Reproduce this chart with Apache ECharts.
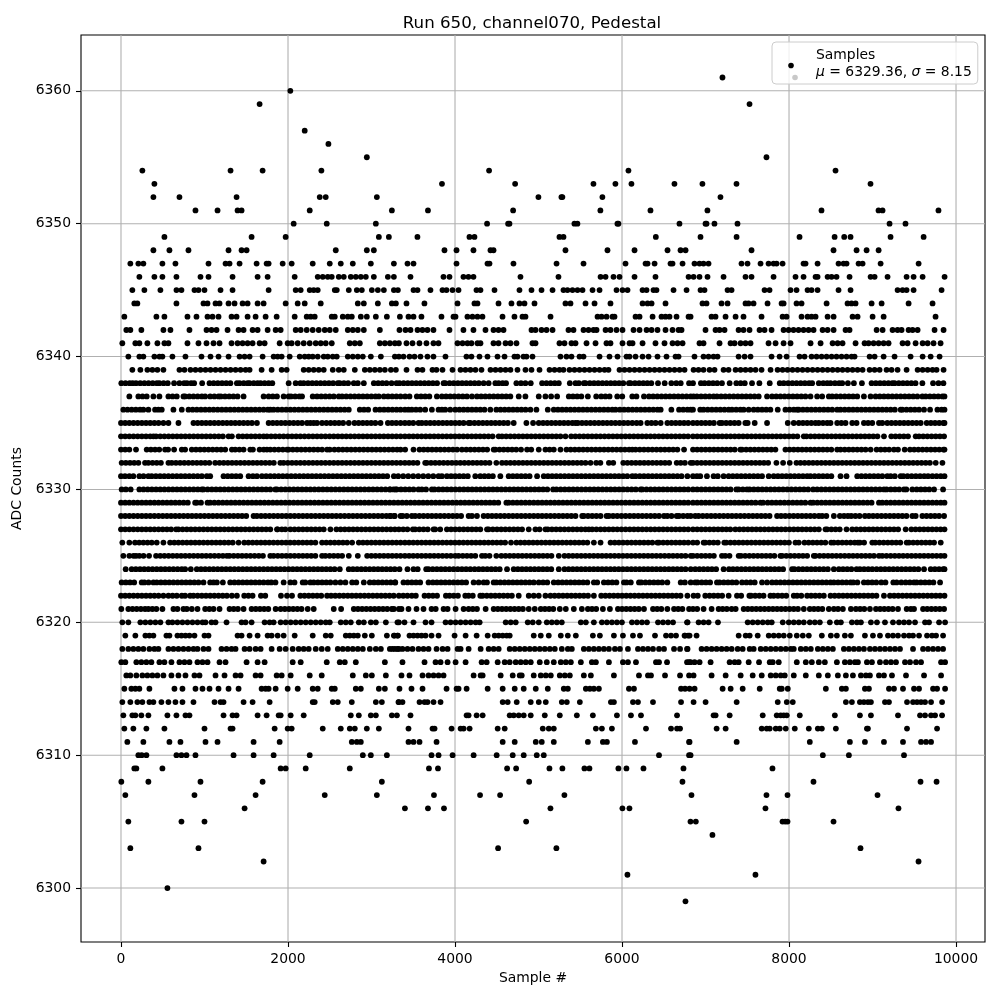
<!DOCTYPE html>
<html><head><meta charset="utf-8"><style>html,body{margin:0;background:#fff}#c{width:1000px;height:1000px}</style>
<script src="https://cdn.jsdelivr.net/npm/echarts@6/dist/echarts.min.js"></script></head><body><div id="c"></div>
<script>
const xTicks=[0,2000,4000,6000,8000,10000];
const yTicks=[6300,6310,6320,6330,6340,6350,6360];
const xRange=[-479,10347];
const yRange=[6295.94,6364.2];
const legendDotBlack=[8024,6361.9];
const legendDotGray=[8072,6361.0];
const adc_6361=[7203];
const adc_6360=[2028];
const adc_6359=[1660,7527];
const adc_6357=[2200];
const adc_6356=[2484];
const adc_6355=[2944,7730];
const adc_6354=[256,1312,1696,2400,4408,6077,8557];
const adc_6353=[400,3844,4720,5658,5921,6113,6628,6963,7371,8976];
const adc_6352=[388,700,1384,2380,2452,3064,4999,5274,5286,5765,7179];
const adc_6351=[892,1156,1396,1444,2260,3244,3676,4696,5741,6341,7023,8389,9072,9120,9790];
const adc_6350=[2068,2464,3052,4384,4636,4652,5430,5466,5945,5957,6688,7000,7012,7107,7383,9204,9395];
const adc_6349=[520,1564,1972,3088,3208,3550,4173,4233,5251,5299,6405,6940,7372,8126,8546,8661,8737,9216,9612];
const adc_6348=[388,580,808,1288,1444,1504,2572,2944,3028,3874,4018,4221,4425,4461,5323,5826,6150,6545,6701,6761,7551,8533,8809,8929,9073];
const adc_6347=[112,208,268,496,652,1048,1252,1300,1420,1624,1744,1768,1936,2044,2296,2500,2632,2776,2992,3268,3431,3503,4018,4389,4413,4700,5216,5539,6042,6282,6306,6390,6581,6605,6725,6868,6928,6976,7036,7431,7503,7659,7755,7815,7851,7923,8174,8198,8342,8593,8653,8689,8833,8881,9097,9552];
const adc_6346=[220,400,496,664,952,1048,1336,1636,1756,2080,2356,2416,2476,2524,2608,2668,2752,2812,2872,2932,3028,3196,3268,3467,3862,3934,4101,4161,4221,4784,5239,5743,5803,5898,5970,6150,6401,6797,6857,6928,7024,7216,7479,7551,7815,8078,8174,8318,8342,8462,8510,8569,8725,8977,9025,9180,9408,9492,9600,9863];
const adc_6345=[136,280,472,664,724,880,928,1000,1192,1336,1768,2092,2152,2260,2308,2356,2560,2584,2728,2824,2884,3004,3076,3148,3268,3316,3503,3551,3706,3850,3898,3970,4042,4257,4305,4473,4772,4916,5036,5168,5299,5347,5407,5467,5527,5647,5731,5934,6006,6066,6246,6294,6377,6413,6617,6773,6940,6988,7264,7312,7707,7767,8018,8090,8222,8270,8342,8593,8737,9300,9360,9408,9492,9827];
const adc_6344=[160,196,664,988,1036,1132,1180,1288,1360,1456,1516,1636,1708,1972,2116,2200,2392,2836,2908,3076,3244,3292,3419,3634,4030,4233,4269,4521,4676,4772,4832,4952,5323,5383,5563,5671,5862,6246,6306,6354,6521,6964,7012,7192,7264,7479,7515,7575,7743,7911,7935,8090,8150,8450,8701,8749,8797,8989,9109,9432,9719];
const adc_6343=[40,424,520,796,904,1036,1096,1168,1324,1384,1516,1612,1732,1864,2080,2224,2272,2320,2524,2560,2656,2716,2764,2872,2944,3052,3184,3340,3443,3503,3598,3838,3982,4006,4149,4209,4269,4329,4569,4712,4808,4844,5144,5707,5755,5815,5886,5910,6162,6210,6366,6473,6521,6569,6653,6797,6821,7072,7120,7240,7360,7455,7671,7923,7971,8150,8222,8270,8318,8462,8534,8761,8821,9001,9133,9755];
const adc_6342=[64,112,244,508,592,820,1024,1084,1144,1276,1408,1468,1576,1636,1756,1852,1912,2092,2152,2224,2296,2368,2440,2500,2572,2716,2776,2836,2908,3100,3335,3407,3467,3551,3610,3670,3742,3934,4101,4221,4365,4461,4521,4581,4916,4964,5036,5096,5168,5359,5419,5539,5599,5659,5695,5803,5862,5934,6006,6138,6210,6294,6354,6425,6521,6605,6677,6713,7000,7120,7168,7228,7396,7455,7527,7647,7707,7791,7935,7995,8054,8114,8174,8234,8294,8402,8462,8534,8677,8725,9049,9121,9240,9300,9348,9432,9480,9540,9743,9851];
const adc_6341=[16,172,220,316,436,520,568,796,928,1024,1108,1180,1324,1396,1456,1516,1576,1660,1720,1900,1996,2044,2116,2188,2260,2332,2392,2452,2524,2740,2800,2860,3100,3160,3220,3280,3328,3419,3491,3574,3658,3742,3802,4030,4090,4149,4197,4269,4305,4461,4521,4605,4664,4736,4928,4964,5251,5311,5395,5443,5575,5683,5814,5862,6006,6090,6126,6246,6401,6509,6605,6665,6725,6928,6976,7168,7300,7348,7420,7479,7539,7755,7839,7935,8018,8258,8378,8522,8582,8641,8797,8905,8953,9013,9073,9133,9192,9360,9420,9516,9600,9660,9731,9815];
const adc_6340=[88,220,268,400,460,496,616,772,964,1072,1168,1288,1420,1480,1540,1696,1828,1876,1924,2020,2140,2200,2248,2296,2356,2428,2476,2536,2584,2716,2776,2836,2896,2992,3112,3280,3328,3383,3455,3515,3586,3670,3742,3886,4137,4197,4293,4389,4509,4593,4712,4748,4820,4856,4928,5263,5335,5395,5491,5539,5731,5850,5946,6054,6090,6162,6246,6318,6425,6533,6641,6677,6868,6976,7036,7096,7144,7396,7468,7539,7791,7887,7971,8126,8186,8270,8330,8390,8450,8510,8569,8629,8689,8749,8785,8965,9025,9133,9264,9456,9600,9696,9803];
const adc_6339=[136,232,316,376,436,508,700,760,832,892,952,1012,1072,1132,1192,1252,1312,1372,1432,1492,1540,1684,1804,1924,1984,2188,2248,2308,2368,2428,2536,2608,2668,2800,2920,2980,3040,3100,3160,3232,3292,3419,3551,3610,3730,3778,3850,3970,4066,4125,4185,4245,4317,4425,4485,4545,4605,4664,4748,4844,4916,5012,5132,5192,5251,5299,5371,5431,5491,5551,5611,5671,5731,5791,5838,5970,6030,6090,6150,6210,6270,6330,6390,6449,6509,6569,6629,6689,6749,6857,6916,6976,7048,7108,7216,7276,7360,7420,7479,7539,7599,7671,7779,7863,7923,7982,8042,8102,8162,8222,8282,8342,8402,8462,8522,8582,8641,8701,8761,8821,8881,8965,9025,9085,9168,9228,9300,9408,9540,9600,9660,9719,9767,9851];
const adc_6338=[4,54,104,140,180,230,280,330,380,430,460,510,560,636,700,756,790,840,876,972,1060,1110,1160,1210,1260,1310,1388,1420,1470,1516,1540,1590,1636,1672,1720,1768,1812,2008,2092,2148,2188,2240,2290,2340,2390,2440,2490,2540,2596,2620,2670,2720,2788,2836,2908,3028,3080,3130,3180,3240,3300,3335,3385,3435,3485,3535,3585,3635,3685,3735,3785,3863,3883,3935,3985,4035,4085,4135,4185,4235,4285,4343,4403,4483,4523,4570,4611,4735,4790,4843,4907,5043,5095,5145,5195,5243,5375,5443,5483,5543,5563,5615,5665,5715,5765,5815,5865,5915,5965,6015,6083,6103,6155,6205,6255,6303,6351,6431,6511,6591,6650,6703,6803,6850,6945,6989,7040,7090,7140,7197,7289,7369,7420,7470,7557,7645,7769,7889,7937,7990,8040,8090,8140,8190,8240,8277,8357,8410,8457,8497,8550,8600,8637,8705,8777,8873,8989,9040,9090,9140,9190,9237,9265,9315,9365,9415,9465,9515,9597,9725,9790,9849];
const adc_6337=[100,208,258,308,388,460,568,618,668,748,768,818,868,918,968,1008,1068,1118,1168,1196,1246,1296,1346,1396,1468,1708,1768,1818,1868,1948,2008,2036,2086,2136,2168,2296,2348,2398,2448,2498,2548,2608,2648,2698,2748,2798,2848,2898,2948,2998,3048,3088,3148,3198,3248,3298,3348,3403,3455,3543,3593,3643,3693,3783,3843,3893,3943,3993,4043,4093,4143,4203,4263,4313,4363,4413,4463,4513,4563,4613,4663,4763,4843,5003,5083,5151,5223,5363,5413,5463,5513,5591,5691,5751,5801,5851,5943,6003,6123,6173,6263,6323,6373,6423,6473,6523,6573,6623,6673,6723,6773,6823,6857,6897,6947,6997,7047,7097,7137,7187,7237,7287,7337,7387,7437,7487,7537,7587,7637,7737,7797,7847,7897,7947,7997,8047,8097,8147,8197,8257,8337,8397,8477,8517,8567,8617,8667,8717,8767,8817,8897,8977,9037,9087,9137,9187,9237,9287,9337,9387,9437,9487,9537,9597,9637,9687,9737,9787,9837,9862];
const adc_6336=[28,78,128,178,228,268,328,408,448,488,628,728,808,858,908,958,1008,1058,1108,1158,1208,1258,1308,1358,1408,1458,1508,1558,1608,1658,1708,1758,1788,1828,1878,1928,1978,2028,2078,2128,2178,2228,2278,2328,2378,2428,2478,2528,2578,2628,2678,2728,2860,2910,2960,3048,3100,3150,3200,3250,3300,3348,3400,3443,3483,3533,3583,3643,3723,3803,3843,3883,3943,4003,4053,4103,4153,4203,4253,4303,4353,4423,4495,4545,4595,4645,4695,4745,4795,4845,4903,4975,5111,5183,5233,5283,5333,5383,5433,5483,5533,5583,5633,5683,5733,5783,5833,5883,5923,5975,6025,6075,6125,6175,6225,6275,6325,6375,6425,6463,6591,6683,6733,6783,6823,6850,6937,6977,7027,7077,7127,7177,7227,7277,7317,7367,7417,7457,7517,7577,7627,7677,7727,7777,7865,7957,8007,8057,8097,8117,8167,8217,8267,8317,8367,8417,8467,8517,8577,8617,8667,8717,8767,8817,8867,8917,8967,9017,9067,9117,9167,9217,9267,9337,9357,9407,9457,9507,9557,9617,9689,9777,9827,9862];
const adc_6335=[0,50,100,150,200,250,300,350,400,450,508,568,688,868,918,968,1018,1068,1118,1168,1218,1268,1318,1368,1418,1468,1518,1568,1628,1768,1818,1868,1918,1968,2018,2068,2118,2168,2228,2268,2308,2348,2408,2460,2510,2560,2610,2660,2728,2796,2846,2896,2946,2996,3046,3108,3196,3246,3296,3348,3400,3450,3500,3563,3603,3653,3703,3753,3803,3853,3903,3953,4003,4053,4103,4163,4183,4233,4283,4333,4383,4433,4483,4533,4583,4633,4703,4855,4935,5003,5055,5105,5155,5205,5255,5305,5355,5405,5443,5471,5521,5571,5621,5671,5721,5771,5821,5871,5921,5971,6021,6071,6123,6175,6223,6303,6353,6403,6463,6543,6593,6643,6693,6743,6793,6850,6900,6950,7000,7050,7100,7169,7197,7247,7297,7347,7397,7477,7505,7589,7737,7985,8057,8117,8167,8217,8267,8317,8357,8407,8457,8497,8577,8627,8677,8757,8809,8897,8947,8997,9077,9117,9177,9227,9277,9327,9377,9427,9477,9527,9577,9649,9699,9749,9799,9849,9862];
const adc_6334=[0,50,100,150,200,250,300,350,388,420,470,520,570,620,670,720,770,820,870,920,970,1020,1070,1120,1170,1220,1288,1328,1408,1458,1508,1558,1608,1658,1708,1748,1798,1848,1898,1948,1998,2048,2098,2148,2198,2248,2298,2348,2398,2448,2498,2548,2598,2648,2698,2748,2798,2848,2898,2948,2998,3048,3098,3148,3198,3248,3298,3348,3400,3450,3500,3550,3600,3650,3700,3750,3800,3850,3900,3950,4000,4050,4100,4150,4200,4250,4300,4350,4400,4450,4523,4563,4613,4663,4713,4763,4813,4863,4913,4963,5013,5063,5113,5163,5213,5263,5323,5391,5441,5491,5541,5591,5641,5691,5741,5791,5841,5891,5941,5991,6041,6091,6141,6191,6241,6291,6341,6391,6441,6491,6541,6591,6641,6691,6741,6791,6850,6900,6950,7000,7050,7100,7150,7200,7250,7300,7350,7400,7450,7500,7550,7600,7650,7700,7750,7800,7850,7900,7950,8000,8050,8100,8177,8209,8259,8309,8359,8409,8459,8509,8559,8609,8659,8709,8759,8809,8859,8909,8959,9009,9059,9137,9225,9275,9325,9375,9425,9517,9557,9607,9657,9707,9757,9807,9857];
const adc_6333=[0,50,100,180,308,358,408,458,528,564,636,728,768,848,898,948,998,1048,1098,1148,1198,1248,1328,1368,1418,1468,1548,1580,1660,1710,1748,1788,1838,1888,1938,1988,2008,2058,2108,2158,2208,2258,2308,2358,2408,2468,2500,2556,2606,2656,2706,2756,2806,2856,2906,2956,3006,3056,3106,3156,3206,3256,3306,3348,3403,3503,3575,3625,3675,3725,3775,3825,3875,3925,3975,4025,4083,4135,4185,4235,4285,4335,4385,4463,4483,4533,4583,4633,4683,4733,4791,4863,4913,5003,5083,5133,5183,5263,5335,5385,5435,5485,5535,5585,5635,5685,5735,5785,5835,5885,5935,5985,6035,6085,6123,6163,6213,6263,6313,6363,6413,6463,6513,6563,6613,6663,6743,6850,6900,6950,7000,7050,7100,7150,7200,7250,7300,7350,7417,7437,7487,7537,7587,7637,7687,7737,7787,7837,7957,8007,8057,8107,8157,8207,8257,8307,8357,8407,8457,8507,8577,8617,8667,8717,8767,8817,8867,8917,8977,9049,9099,9149,9199,9257,9305,9385,9449,9499,9549,9599,9649,9699,9749,9799,9849,9862];
const adc_6332=[8,58,108,158,208,288,328,378,428,478,568,608,658,708,758,808,858,908,958,1008,1058,1128,1180,1230,1280,1330,1380,1430,1480,1530,1580,1630,1680,1730,1780,1830,1908,1948,1998,2048,2098,2148,2198,2248,2298,2348,2398,2448,2498,2548,2598,2648,2698,2748,2798,2848,2898,2948,2998,3048,3098,3148,3198,3248,3298,3348,3400,3450,3500,3550,3643,3663,3713,3763,3813,3863,3913,3963,4013,4063,4113,4163,4213,4263,4313,4363,4413,4495,4563,4613,4663,4713,4763,4813,4863,4913,4963,5013,5063,5113,5163,5213,5263,5313,5363,5413,5463,5513,5563,5623,5691,5741,5843,5895,6015,6065,6115,6165,6215,6265,6315,6365,6415,6465,6515,6565,6655,6703,6753,6823,6850,6900,6950,7000,7050,7100,7150,7200,7250,7300,7350,7400,7450,7500,7550,7600,7650,7700,7750,7849,7929,8009,8089,8137,8187,8237,8287,8337,8387,8437,8487,8537,8587,8637,8687,8737,8787,8837,8887,8937,8987,9037,9087,9137,9187,9237,9287,9337,9387,9437,9487,9537,9587,9637,9687,9757,9837];
const adc_6331=[0,48,100,148,220,270,328,368,418,468,518,568,618,668,718,768,818,868,918,968,1028,1068,1228,1278,1328,1378,1428,1528,1580,1628,1688,1738,1788,1838,1888,1938,1988,2038,2088,2138,2188,2238,2288,2338,2388,2438,2488,2538,2588,2638,2688,2738,2788,2838,2888,2938,2988,3038,3088,3138,3188,3268,3320,3380,3440,3500,3560,3620,3680,3740,3803,3843,3903,3953,4003,4053,4103,4153,4243,4303,4353,4403,4453,4543,4643,4693,4743,4793,4843,4893,4983,5063,5113,5163,5213,5263,5313,5363,5413,5463,5513,5563,5613,5663,5713,5763,5813,5863,5913,5963,6013,6063,6123,6163,6213,6263,6313,6363,6413,6463,6513,6563,6613,6663,6713,6783,6850,6897,6937,7017,7097,7147,7217,7277,7327,7377,7427,7477,7527,7577,7627,7677,7757,7817,7867,7917,7967,8017,8067,8117,8167,8217,8257,8307,8357,8407,8457,8507,8617,8689,8817,8867,8917,8967,9017,9067,9117,9177,9217,9267,9337,9369,9419,9469,9519,9569,9619,9665,9717,9767,9817,9862];
const adc_6330=[8,58,116,220,270,320,370,420,470,520,570,620,670,720,770,820,870,920,968,988,1038,1088,1138,1188,1238,1288,1338,1388,1438,1488,1538,1588,1638,1688,1738,1788,1848,1868,1918,1968,2018,2068,2118,2168,2218,2268,2318,2368,2418,2468,2518,2568,2618,2668,2718,2768,2818,2868,2918,2968,3018,3068,3118,3168,3218,3288,3223,3263,3303,3353,3403,3453,3503,3563,3603,3653,3723,3755,3805,3855,3905,3955,4005,4055,4105,4155,4205,4255,4305,4355,4405,4455,4505,4555,4605,4655,4705,4755,4805,4855,4905,4955,5005,5055,5105,5175,5215,5265,5315,5365,5415,5465,5515,5565,5615,5665,5715,5765,5815,5865,5915,5965,6015,6065,6115,6165,6223,6243,6293,6343,6393,6443,6493,6543,6593,6643,6693,6743,6793,6850,6900,6950,7000,7050,7100,7150,7200,7250,7300,7369,7397,7447,7497,7529,7579,7629,7679,7729,7779,7829,7879,7929,7979,8029,8079,8129,8179,8229,8289,8337,8387,8437,8487,8537,8587,8637,8687,8737,8787,8837,8887,8937,8987,9037,9087,9137,9169,9219,9269,9319,9377,9405,9477,9529,9579,9629,9679,9737,9845];
const adc_6329=[0,50,100,150,200,250,300,350,400,450,500,550,600,650,700,750,800,888,908,958,1036,1068,1118,1168,1218,1268,1318,1368,1418,1468,1518,1568,1618,1668,1718,1768,1818,1868,1918,1968,2018,2068,2118,2168,2218,2268,2318,2368,2418,2468,2518,2568,2618,2668,2718,2768,2818,2868,2918,2968,3018,3068,3118,3168,3218,3268,3318,3368,3418,3468,3518,3568,3618,3668,3718,3768,3818,3868,3918,3968,4018,4068,4118,4168,4218,4268,4318,4368,4418,4468,4518,4615,4643,4693,4743,4793,4843,4893,4943,4993,5043,5093,5143,5193,5243,5293,5343,5393,5443,5493,5543,5593,5643,5693,5743,5793,5843,5893,5943,5993,6043,6093,6143,6193,6243,6293,6343,6393,6443,6493,6543,6593,6643,6693,6743,6793,6850,6900,6950,7000,7050,7100,7150,7200,7250,7300,7350,7400,7450,7500,7550,7600,7657,7689,7745,7795,7845,7895,7945,7995,8045,8095,8145,8195,8257,8289,8339,8389,8439,8489,8539,8589,8639,8689,8739,8789,8839,8889,8939,8989,9077,9117,9167,9217,9267,9317,9367,9417,9467,9517,9567,9617,9667,9717,9767,9817,9862];
const adc_6328=[0,50,100,150,200,250,300,350,400,450,500,550,600,650,700,750,800,850,900,950,1000,1050,1100,1150,1200,1250,1300,1350,1400,1450,1500,1588,1628,1678,1728,1778,1828,1878,1928,1978,2028,2078,2128,2178,2228,2278,2328,2378,2428,2478,2528,2578,2628,2678,2728,2778,2828,2878,2928,2978,3028,3078,3128,3178,3228,3278,3348,3223,3273,3373,3423,3483,3523,3573,3623,3673,3723,3773,3823,3873,3923,3973,4023,4073,4163,4203,4263,4343,4393,4443,4493,4543,4593,4643,4693,4743,4793,4843,4893,4943,4993,5043,5093,5143,5193,5243,5293,5343,5393,5443,5523,5543,5593,5643,5693,5743,5815,5843,5893,5943,5993,6043,6093,6143,6193,6243,6293,6343,6393,6443,6503,6543,6593,6655,6683,6733,6783,6823,6877,6917,6967,7017,7067,7117,7167,7217,7267,7317,7367,7417,7467,7517,7567,7617,7667,7717,7767,7857,7905,7955,8005,8055,8105,8155,8205,8255,8305,8357,8397,8447,8537,8609,8659,8705,8745,8795,8845,8909,8957,9007,9057,9107,9157,9207,9257,9307,9357,9407,9477,9517,9597,9647,9697,9747,9797,9857];
const adc_6327=[0,50,100,150,200,250,300,350,400,450,500,550,600,660,688,738,788,838,888,938,988,1038,1088,1138,1188,1238,1288,1338,1388,1438,1488,1538,1588,1638,1688,1738,1788,1868,1876,1926,1968,2028,2078,2128,2178,2228,2278,2328,2378,2428,2508,2580,2630,2680,2730,2780,2830,2880,2930,2980,3030,3080,3130,3180,3230,3280,3328,3380,3430,3495,3523,3573,3623,3673,3743,3763,3823,3903,3953,4003,4053,4103,4153,4203,4253,4303,4383,4403,4453,4503,4553,4603,4653,4703,4753,4803,4883,4963,5013,5083,5111,5161,5211,5261,5311,5361,5411,5461,5511,5561,5603,5643,5693,5743,5793,5843,5893,5943,5993,6043,6093,6143,6193,6243,6293,6343,6393,6443,6493,6543,6593,6643,6693,6743,6793,6850,6900,6950,7000,7050,7100,7150,7200,7249,7297,7357,7407,7457,7507,7557,7607,7657,7707,7757,7807,7857,7907,7957,8007,8057,8107,8157,8207,8257,8307,8357,8437,8457,8507,8557,8607,8689,8757,8807,8857,8907,8957,9007,9057,9107,9157,9207,9257,9307,9397,9465,9515,9565,9615,9665,9715,9765,9815,9862];
const adc_6326=[16,100,168,218,268,318,368,428,508,588,638,688,738,788,838,888,938,988,1038,1088,1138,1188,1238,1288,1338,1408,1476,1526,1576,1626,1676,1726,1776,1826,1876,1926,1976,2026,2076,2126,2176,2226,2276,2328,2408,2458,2508,2558,2608,2658,2708,2768,2848,2898,2948,2998,3048,3098,3148,3198,3248,3298,3348,3400,3450,3500,3550,3600,3650,3700,3750,3800,3850,3900,3950,4000,4050,4100,4150,4200,4250,4300,4350,4400,4450,4500,4550,4600,4671,4735,4785,4835,4885,4935,4985,5035,5085,5135,5185,5235,5285,5335,5385,5435,5485,5535,5585,5663,5743,5863,5913,5963,6013,6063,6113,6163,6213,6263,6313,6363,6423,6443,6493,6543,6593,6643,6693,6743,6793,6850,6900,6977,6997,7047,7097,7147,7225,7249,7299,7349,7399,7449,7499,7549,7599,7649,7699,7749,7799,7849,7899,7949,7999,8077,8117,8185,8235,8285,8335,8385,8435,8505,8537,8587,8637,8687,8737,8787,8825,8849,8899,8997,9033,9083,9133,9183,9233,9283,9333,9409,9437,9487,9537,9587,9637,9687,9737,9817];
const adc_6325=[28,100,150,180,220,270,336,420,470,520,570,620,670,720,770,820,870,920,970,1020,1070,1120,1170,1220,1268,1300,1350,1400,1450,1500,1550,1600,1650,1700,1788,1828,1878,1928,1978,2028,2078,2128,2178,2228,2278,2328,2408,2448,2498,2548,2598,2648,2728,2836,2948,2998,3048,3098,3148,3198,3248,3298,3348,3400,3450,3500,3550,3600,3650,3700,3750,3800,3850,3900,3950,4003,4043,4093,4143,4193,4243,4323,4363,4413,4495,4555,4605,4655,4705,4755,4805,4855,4905,4955,5005,5055,5105,5155,5243,5311,5361,5411,5461,5511,5561,5611,5661,5711,5761,5811,5861,5911,5961,6011,6061,6111,6161,6211,6261,6311,6361,6411,6461,6511,6561,6611,6661,6711,6761,6823,6850,6900,6950,7000,7050,7100,7197,7237,7287,7397,7425,7475,7525,7575,7625,7675,7725,7775,7825,7897,7917,7967,8017,8067,8117,8167,8217,8297,8317,8367,8417,8467,8517,8567,8617,8667,8717,8767,8817,8867,8917,8967,9017,9077,9117,9167,9217,9267,9317,9367,9417,9467,9517,9567,9617,9667,9717,9767,9817,9862];
const adc_6324=[56,128,178,228,278,328,378,428,478,528,578,628,678,728,768,836,908,958,1008,1058,1108,1158,1208,1258,1308,1358,1408,1458,1508,1558,1608,1658,1708,1758,1808,1858,1908,1958,2008,2058,2108,2158,2208,2258,2308,2358,2408,2458,2508,2558,2620,2728,2778,2828,2878,2928,2978,3028,3078,3128,3178,3228,3278,3335,3431,3503,3553,3655,3683,3733,3783,3833,3883,3933,3983,4033,4083,4133,4183,4235,4285,4335,4385,4435,4485,4535,4623,4703,4753,4803,4853,4903,4953,5003,5053,5103,5153,5243,5311,5361,5411,5461,5511,5561,5611,5661,5711,5761,5811,5861,5911,5961,6011,6061,6111,6161,6211,6261,6311,6361,6411,6461,6511,6561,6611,6661,6711,6761,6823,6877,6927,6977,7027,7077,7127,7217,7281,7329,7379,7429,7479,7529,7579,7629,7679,7729,7779,7829,7879,7929,8037,8065,8115,8165,8215,8265,8315,8365,8415,8465,8537,8597,8647,8697,8747,8809,8849,8899,8949,8997,9049,9099,9149,9199,9249,9299,9349,9399,9449,9499,9549,9617,9697,9747,9797,9847,9862];
const adc_6323=[8,58,108,158,248,280,330,388,428,478,528,578,628,678,728,778,828,878,928,988,1068,1108,1148,1220,1308,1358,1408,1458,1508,1558,1608,1658,1708,1760,1800,1850,1948,2028,2078,2176,2208,2268,2308,2358,2408,2458,2508,2568,2628,2688,2768,2818,2908,2980,3030,3080,3130,3180,3230,3284,3283,3383,3433,3483,3533,3583,3683,3735,3783,3833,3883,3933,3983,4033,4083,4133,4223,4283,4343,4383,4463,4495,4543,4593,4643,4693,4743,4793,4843,4893,4943,5003,5055,5105,5183,5235,5285,5335,5385,5435,5485,5535,5585,5663,5703,5783,5833,5883,5933,6023,6055,6105,6203,6231,6281,6331,6381,6431,6481,6543,6703,6753,6823,6877,6905,6955,7005,7055,7137,7169,7219,7269,7319,7369,7437,7489,7539,7589,7677,7737,7797,7847,7897,7947,7997,8047,8097,8147,8197,8247,8297,8347,8397,8447,8497,8537,8587,8637,8687,8737,8769,8819,8897,8945,8995,9045,9105,9155,9249,9289,9345,9397,9447,9497,9529,9579,9629,9679,9729,9809];
const adc_6322=[0,50,100,150,200,250,300,350,400,450,508,568,618,668,728,768,828,868,918,968,1018,1068,1118,1168,1218,1268,1328,1388,1476,1526,1576,1676,1728,1916,1988,2048,2148,2198,2248,2298,2348,2398,2468,2516,2566,2616,2666,2716,2766,2816,2866,2916,2966,3016,3066,3116,3166,3216,3266,3328,3380,3430,3483,3531,3635,3685,3735,3785,3891,3935,3985,4035,4123,4163,4213,4303,4331,4381,4431,4481,4531,4581,4631,4681,4763,4883,4943,5003,5083,5143,5193,5243,5293,5343,5393,5443,5493,5543,5593,5663,5751,5801,5851,5901,5951,6001,6051,6101,6151,6201,6251,6301,6351,6401,6451,6501,6551,6601,6651,6701,6783,6857,6907,6997,7049,7099,7149,7199,7277,7377,7427,7525,7545,7595,7645,7695,7777,7817,7867,7917,7967,8057,8097,8147,8217,8265,8315,8365,8417,8497,8547,8597,8647,8697,8747,8797,8847,8897,8947,8997,9047,9137,9209,9259,9309,9359,9409,9459,9509,9559,9609,9659,9709,9759,9809,9862];
const adc_6321=[4,88,138,188,238,288,328,376,424,496,628,676,748,788,848,916,1008,1058,1108,1180,1300,1350,1400,1468,1564,1614,1664,1714,1764,1852,1912,1962,2012,2062,2112,2162,2236,2308,2548,2636,2788,2838,2888,2938,2988,3038,3088,3138,3188,3268,3328,3243,3359,3443,3539,3623,3719,3769,3863,3911,4007,4103,4163,4213,4263,4367,4463,4513,4563,4613,4663,4713,4763,4813,4883,4955,5027,5077,5127,5177,5255,5327,5423,5519,5591,5641,5691,5771,5855,5951,6001,6051,6101,6151,6201,6263,6371,6421,6471,6543,6623,6673,6723,6803,6850,6900,6977,7073,7157,7205,7255,7313,7361,7457,7507,7557,7607,7657,7707,7757,7807,7857,7907,7957,8007,8057,8107,8177,8249,8299,8349,8399,8477,8537,8587,8645,8741,8801,8851,8901,8969,9041,9091,9141,9191,9241,9305,9409,9459,9497,9605,9655,9705,9755,9805,9857];
const adc_6320=[16,88,232,292,352,412,472,568,616,676,736,796,856,916,976,1012,1084,1132,1264,1444,1492,1564,1720,1780,1828,1912,1972,2032,2092,2152,2212,2272,2332,2392,2452,2500,2632,2692,2752,2848,2908,2992,3052,3172,3328,3311,3395,3503,3647,3719,3887,3947,4007,4067,4127,4187,4247,4295,4607,4667,4727,4871,4931,5003,5099,5159,5219,5279,5507,5567,5663,5759,5819,5879,5939,5999,6119,6179,6239,6299,6431,6491,6551,6611,6779,6785,6917,6977,7037,7149,7505,7565,7625,7685,7745,7793,7925,7997,8057,8117,8177,8249,8309,8369,8489,8573,8621,8753,8813,8861,8981,9053,9149,9245,9317,9377,9437,9509,9629,9677,9797,9869];
const adc_6319=[52,172,292,340,388,544,580,676,724,772,820,880,1000,1048,1396,1444,1540,1636,1756,1804,1876,1948,2080,2296,2452,2512,2692,2740,2788,2836,2920,3004,3184,3268,3316,3275,3311,3455,3503,3551,3599,3647,3719,3803,3995,4127,4259,4391,4475,4523,4571,4619,4655,4943,5027,5123,5267,5351,5447,5651,5735,5903,6011,6131,6215,6395,6527,6587,6647,6755,6791,6749,6809,6893,7397,7481,7529,7625,7757,7817,7877,7937,8009,8093,8165,8237,8393,8501,8573,8669,8741,8909,9005,9089,9185,9245,9305,9377,9437,9485,9557,9653,9713,9761,9845];
const adc_6318=[16,88,148,208,268,340,400,448,568,628,688,748,808,868,916,988,1048,1204,1264,1324,1372,1480,1540,1612,1672,1804,1900,1972,2056,2128,2188,2248,2332,2404,2476,2596,2656,2716,2776,2836,2896,2980,3052,3112,3220,3280,3328,3251,3311,3371,3431,3491,3563,3623,3683,3779,3851,3911,4031,4067,4163,4307,4403,4463,4523,4655,4715,4775,4835,4895,4955,5015,5075,5135,5195,5279,5351,5399,5543,5603,5663,5723,5783,5843,5915,5975,6071,6191,6251,6311,6371,6443,6503,6623,6695,6779,6785,6953,7013,7073,7133,7193,7253,7313,7385,7445,7529,7577,7661,7721,7781,7841,7901,7961,8021,8057,8141,8201,8261,8345,8405,8465,8525,8657,8717,8777,8837,8897,8969,9029,9089,9149,9209,9269,9329,9485,9605,9665,9725,9785,9845];
const adc_6317=[4,52,184,244,304,364,460,520,604,700,760,820,916,976,1036,1180,1252,1504,1636,1720,2056,2152,2464,2620,2680,2812,3160,3371,3635,3767,3827,3911,4007,4127,4319,4379,4511,4595,4655,4727,4787,4847,4907,5015,5099,5183,5267,5327,5387,5507,5639,5687,5843,6011,6071,6167,6407,6443,6539,6779,6803,6821,6869,6929,7061,7289,7349,7397,7517,7641,7769,7805,7877,8093,8201,8273,8357,8429,8573,8669,8729,8789,8825,8933,8993,9089,9161,9221,9281,9389,9449,9521,9581,9821,9869];
const adc_6316=[64,112,184,256,316,376,436,508,604,688,772,880,940,1132,1240,1372,1432,1612,1672,1864,1924,2032,2260,2404,2776,2932,3004,3172,3359,3455,3611,3683,3743,3803,3863,4223,4307,4331,4547,4691,4775,4799,4943,5027,5087,5147,5255,5315,5375,5543,5627,5903,6203,6311,6347,6515,6695,6803,6857,7073,7241,7421,7565,7673,7781,7841,7901,7949,8057,8201,8357,8465,8585,8681,8765,8861,8921,8969,9077,9137,9233,9401,9617,9821];
const adc_6315=[40,124,172,220,340,640,736,892,976,1060,1168,1288,1408,1684,1732,1768,1852,1996,2116,2296,2356,2524,2560,2812,2872,3088,3160,3335,3479,3611,3899,4019,4043,4139,4391,4571,4715,4823,4967,5111,5303,5351,5567,5615,5663,5723,6083,6143,6707,6755,6809,6869,7205,7301,7445,7649,7889,7913,7985,8441,8633,8681,8909,8957,9197,9257,9365,9497,9557,9725,9773,9869];
const adc_6314=[16,112,196,256,340,388,484,568,652,736,868,1120,1192,1228,1468,1576,1780,2296,2320,2536,2596,2764,3052,3124,3328,3323,3371,3575,3635,3671,3743,3827,4571,4631,4739,4907,5003,5087,5279,5339,5495,5867,5903,6131,6191,6371,6707,6857,7001,7373,7865,7973,8045,8681,8753,8849,8897,8945,8981,9149,9197,9413,9485,9533,9581,9629,9701,9833];
const adc_6313=[28,136,172,244,328,556,664,772,820,1228,1336,1384,1636,1744,1888,1912,2032,2188,2752,2848,2992,3052,3244,3304,3467,4139,4163,4259,4331,4655,4703,4763,4823,4907,5075,5255,5459,5651,5939,6107,6227,6659,7097,7121,7289,7685,7853,7901,7937,7973,8129,8549,8849,8981,9305,9569,9629,9701,9749,9833];
const adc_6312=[40,148,304,520,1000,1312,1336,1840,1996,2044,2416,2632,2740,2800,2944,3088,3443,3731,3755,3959,4067,4103,4175,4511,4595,5051,5123,5183,5687,5759,5879,6287,6587,6659,6695,7133,7241,7673,7733,7769,7841,7889,7961,8069,8237,8345,8393,8561,8933,8945,9413,9773];
const adc_6311=[76,268,580,712,1012,1156,1588,1900,2764,2824,2872,3443,3503,3575,3779,4571,4715,4967,5039,5183,5591,5771,5819,6155,6803,6809,7373,8249,8729,8909,9137,9365,9581,9641,9701];
const adc_6310=[208,248,304,664,724,784,892,1348,1588,1828,2260,2896,2992,3184,3719,3803,3971,4223,4499,4691,4823,4979,5063,6443,6803,6821,8405,8717,9377];
const adc_6309=[160,184,496,1912,1972,2212,2740,3688,3796,4624,4732,5131,5286,5550,5610,5957,6053,6257,6736,7802];
const adc_6308=[4,328,952,1696,3124,4888,6724,8293,9575,9767];
const adc_6307=[52,880,1612,2440,3064,3748,4300,4540,5310,6832,7730,7982,9060];
const adc_6306=[1480,3400,3676,3868,5143,6005,6089,7718,9311];
const adc_6305=[88,724,1000,4852,6820,6884,7922,7954,7982,8533];
const adc_6304=[7083];
const adc_6303=[112,928,4516,5214,8856];
const adc_6302=[1708,9551];
const adc_6301=[6065,7598];
const adc_6300=[556];
const adc_6299=[6760];
const rows={6361:adc_6361,6360:adc_6360,6359:adc_6359,6357:adc_6357,6356:adc_6356,6355:adc_6355,6354:adc_6354,6353:adc_6353,6352:adc_6352,6351:adc_6351,6350:adc_6350,6349:adc_6349,6348:adc_6348,6347:adc_6347,6346:adc_6346,6345:adc_6345,6344:adc_6344,6343:adc_6343,6342:adc_6342,6341:adc_6341,6340:adc_6340,6339:adc_6339,6338:adc_6338,6337:adc_6337,6336:adc_6336,6335:adc_6335,6334:adc_6334,6333:adc_6333,6332:adc_6332,6331:adc_6331,6330:adc_6330,6329:adc_6329,6328:adc_6328,6327:adc_6327,6326:adc_6326,6325:adc_6325,6324:adc_6324,6323:adc_6323,6322:adc_6322,6321:adc_6321,6320:adc_6320,6319:adc_6319,6318:adc_6318,6317:adc_6317,6316:adc_6316,6315:adc_6315,6314:adc_6314,6313:adc_6313,6312:adc_6312,6311:adc_6311,6310:adc_6310,6309:adc_6309,6308:adc_6308,6307:adc_6307,6306:adc_6306,6305:adc_6305,6304:adc_6304,6303:adc_6303,6302:adc_6302,6301:adc_6301,6300:adc_6300,6299:adc_6299};
const data=[];Object.keys(rows).forEach(k=>rows[k].forEach(x=>data.push([x,+k])));
const f='DejaVu Sans';
function axis(ticks,margin,extra){return Object.assign({type:'value',axisLine:{show:false,onZero:false},
 axisTick:{show:true,length:5,customValues:ticks,lineStyle:{color:'#000',width:1.1}},
 axisLabel:{color:'#000',fontFamily:f,fontSize:13.9,margin:margin,customValues:ticks,formatter:v=>String(v)},
 splitLine:{show:false},nameLocation:'middle',nameTextStyle:{color:'#000',fontFamily:f,fontSize:13.9}},extra);}
function gridLine(pts){return {type:'line',data:pts,z:1,silent:true,showSymbol:false,symbol:'none',legendHoverLink:false,lineStyle:{color:'#b0b0b0',width:1.1,type:'solid'}};}
const gridSeries=xTicks.map(v=>gridLine([[v,yRange[0]],[v,yRange[1]]])).concat(yTicks.map(v=>gridLine([[xRange[0],v],[xRange[1],v]])));
const chart=echarts.init(document.getElementById('c'),null,{renderer:'canvas'});
chart.setOption({animation:false,backgroundColor:'#fff',
 title:{text:'Run 650, channel070, Pedestal',left:527,textAlign:'center',top:10,textStyle:{fontFamily:f,fontSize:16.67,fontWeight:'normal',color:'#000'}},
 grid:{left:81,top:35,width:904,height:907,show:true,borderColor:'#000',borderWidth:1.1,backgroundColor:'#fff',outerBoundsMode:'none'},
 xAxis:axis(xTicks,10,{min:xRange[0],max:xRange[1],name:'Sample #',nameGap:29}),
 yAxis:axis(yTicks,10,{min:yRange[0],max:yRange[1],name:'ADC Counts',nameGap:51}),
 legend:{show:true,left:772,top:42,orient:'vertical',padding:[6,6,5,33],itemWidth:6,itemHeight:6,backgroundColor:'rgba(255,255,255,0.8)',borderColor:'#ccc',borderWidth:1,borderRadius:4,z:10,
  data:[{name:'Samples',icon:'none'}],selectedMode:false,
  formatter:()=>'{a|Samples}\n{b|μ}{a| = 6329.36, }{b|σ}{a| = 8.15}',
  textStyle:{rich:{a:{fontFamily:f,fontSize:13.9,color:'#000',lineHeight:17},b:{fontFamily:f,fontSize:13.9,fontStyle:'italic',color:'#000',lineHeight:17}}}},
 series:gridSeries.concat([
  {name:'Samples',type:'scatter',data:data,symbol:'circle',symbolSize:5.8,itemStyle:{color:'#000',opacity:1},silent:true,z:3,progressive:0,large:false},
  {name:'Legend swatch black',type:'scatter',data:[legendDotBlack],symbol:'circle',symbolSize:5.6,itemStyle:{color:'#000',opacity:1},silent:true,z:30},
  {name:'Legend swatch gray',type:'scatter',data:[legendDotGray],symbol:'circle',symbolSize:5.6,itemStyle:{color:'#c8c8c8',opacity:1},silent:true,z:30}])
});
</script></body></html>
